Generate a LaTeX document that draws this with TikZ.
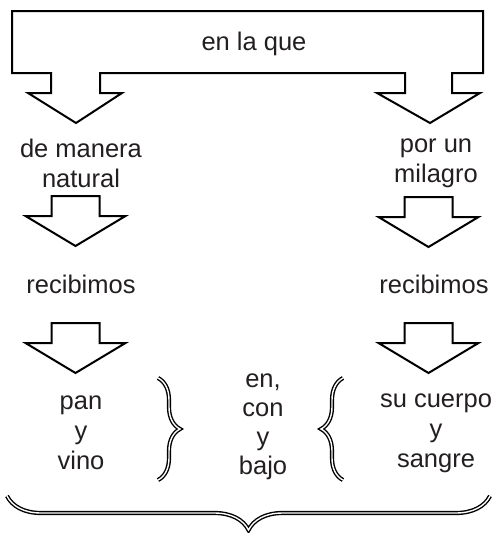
\documentclass[tikz,border=0pt]{standalone}
\usepackage{fontspec}
\setmainfont{Liberation Sans}
\usetikzlibrary{decorations.pathreplacing}
\definecolor{ink}{HTML}{231F20}
\tikzset{
  outline/.style={draw=black, line width=2pt, line join=miter},
  lbl/.style={text=ink, inner sep=0pt, align=center, font={\fontsize{25.5}{30}\selectfont}},
  lbltight/.style={lbl, font={\fontsize{25.5}{29}\selectfont}},
  bracestyle/.style={draw=black, line width=1.4pt, double=white, double distance=1.4pt,
    decorate, decoration={brace, amplitude=#1}},
  barrow/.pic={\draw[outline] (-24,0) -- (24,0) -- (24,20) -- (50,20) -- (0,50)
     -- (-50,20) -- (-24,20) -- cycle;}
}
\begin{document}
\begin{tikzpicture}[x=1pt, y=-1pt]
\useasboundingbox (0,0) rectangle (495,533);
% top box with its two arrows
\draw[outline] (12,11) -- (483,11) -- (483,73) -- (452,73) -- (452,93) -- (480,93)
  -- (430,123) -- (377,93) -- (405,93) -- (405,73) -- (100,73) -- (100,93)
  -- (122,93) -- (76,123) -- (28,93) -- (51,93) -- (51,73) -- (12,73) -- cycle;
\node[lbl] (top) at (254,44) {en la que};
\node[lbl] (nat) at (81,163) {de manera\\natural};
\node[lbl] (mil) at (436,163) {por un\\milagro};
\pic at (75.5,196) {barrow};
\pic at (428.5,197) {barrow};
\node[lbl] (rec1) at (81,284) {recibimos};
\node[lbl] (rec2) at (434,284) {recibimos};
\pic at (75.5,323) {barrow};
\pic at (428.5,323) {barrow};
\node[lbl] (pan) at (81,433) {pan\\y\\vino};
\node[lbltight] (prep) at (263,427) {en,\\con\\y\\bajo};
\node[lbl] (cuerpo) at (436,433) {su cuerpo\\y\\sangre};
% braces
\coordinate (b1a) at (158,378);
\coordinate (b1b) at (158,480);
\coordinate (b2a) at (343,480);
\coordinate (b2b) at (343,378);
\coordinate (b3a) at (490,496);
\coordinate (b3b) at (7,496);
\draw[bracestyle=22] (b1a) -- (b1b);
\draw[bracestyle=22] (b2a) -- (b2b);
\draw[bracestyle=34] (b3a) -- (b3b);
\end{tikzpicture}
\end{document}
